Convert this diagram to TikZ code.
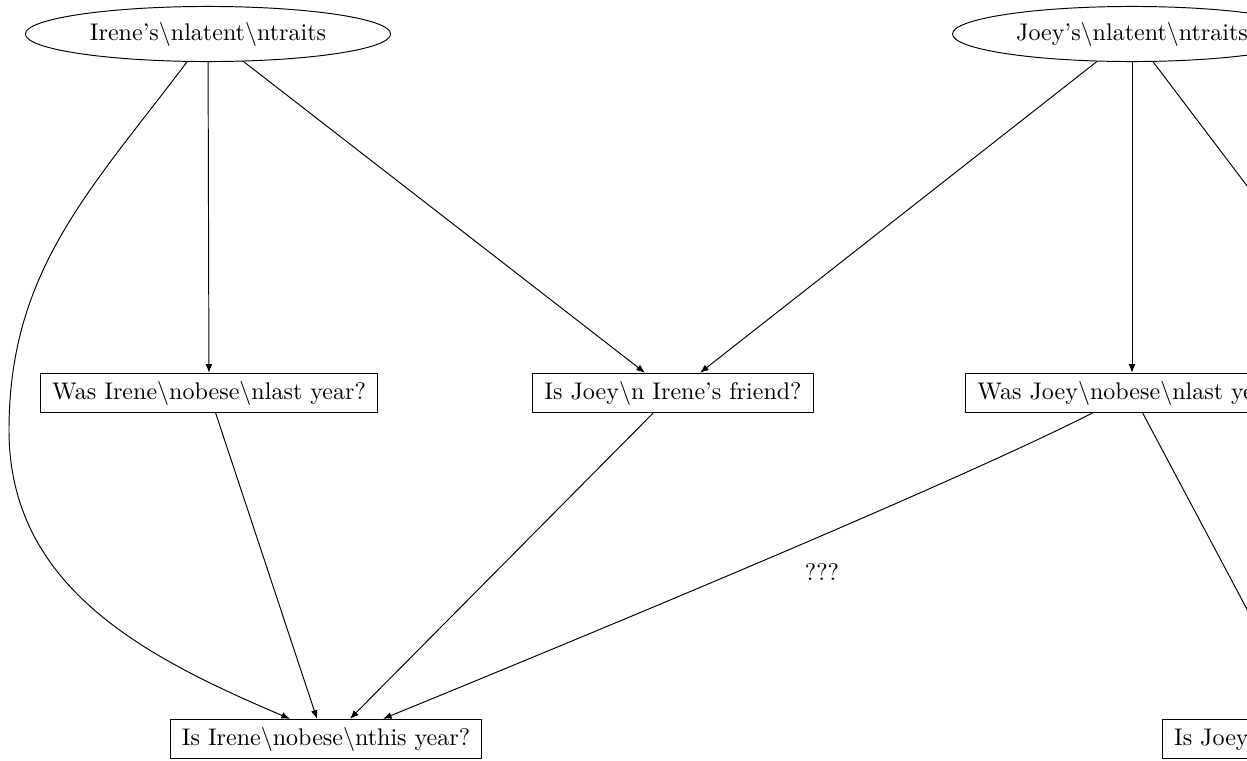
\documentclass[tikz,border=0pt]{standalone}
\usepackage{tikz}
\usetikzlibrary{arrows.meta,calc,shapes.geometric}

\begin{document}
\begin{tikzpicture}[x=0.416pt,y=0.416pt,>={Latex[length=3.6pt,width=2.8pt]},
  line cap=round,line join=round,
  lat/.style={ellipse,draw,inner xsep=4.6pt,inner ysep=3.1pt,text height=7.5pt,text depth=2.5pt},
  obs/.style={rectangle,draw,inner xsep=4.8pt,inner ysep=3.2pt,text height=7.5pt,text depth=2.5pt}]
\path[use as bounding box] (0,0) rectangle (1247,-760);
\clip (0,0) rectangle (1247,-760);

% latente Eigenschaften
\node[lat] (ilat) at (208,-34) {Irene's\textbackslash nlatent\textbackslash ntraits};
\node[lat] (jlat) at (1132,-34) {Joey's\textbackslash nlatent\textbackslash ntraits};

% mittlere Reihe
\node[obs] (ilast) at (209,-393) {Was Irene\textbackslash nobese\textbackslash nlast year?};
\node[obs] (fr) at (673,-393) {Is Joey\textbackslash n Irene's friend?};
\node[obs] (jlast) at (1132,-393) {Was Joey\textbackslash nobese\textbackslash nlast year?};
\coordinate (jfr) at (1388,-372);

% untere Reihe
\node[obs] (inow) at (326,-739) {Is Irene\textbackslash nobese\textbackslash nthis year?};
\node[obs] (jnow) at (1316,-739) {Is Joey\textbackslash nobese\textbackslash nthis year?};

% Kanten
\draw[->] (ilat) to[out=233,in=90] (9,-430) to[out=270,in=157] ($(inow.north)+(-36,0)$);
\draw[->] (ilat) -- (ilast);
\draw[->] (ilat) -- ($(fr.north)+(-28,0)$);
\draw[->] (jlat) -- ($(fr.north)+(27,0)$);
\draw[->] (jlat) -- (jlast);
\draw[->] (jlat) -- (jfr);
\draw[->] (ilast) -- ($(inow.north)+(-9,0)$);
\draw[->] (fr) -- ($(inow.north)+(24,0)$);
\draw[->] (jlast) .. controls (950,-485) and (600,-630) .. ($(inow.north)+(57,0)$);
\draw[->] (jlast) -- (jnow);
\node (qq) at (822,-572) {???};
\end{tikzpicture}
\end{document}
